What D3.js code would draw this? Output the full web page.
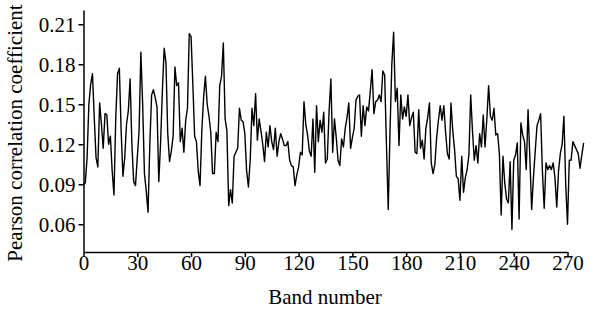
<!DOCTYPE html>
<html>
<head>
<meta charset="utf-8">
<script src="https://cdn.jsdelivr.net/npm/d3@7"></script>
<style>
  body { margin: 0; background: #fff; }
</style>
</head>
<body>
<script>
// Pearson correlation per band, band 0 .. 279
const correlation = [
  0.090, 0.091, 0.110, 0.150, 0.165, 0.173, 0.140, 0.110, 0.103, 0.151,
  0.135, 0.117, 0.143, 0.142, 0.120, 0.126, 0.100, 0.082, 0.140, 0.173,
  0.177, 0.130, 0.096, 0.110, 0.135, 0.145, 0.169, 0.120, 0.092, 0.089,
  0.110, 0.130, 0.189, 0.150, 0.098, 0.085, 0.069, 0.120, 0.157, 0.161,
  0.155, 0.148, 0.092, 0.121, 0.160, 0.192, 0.181, 0.128, 0.107, 0.115,
  0.126, 0.178, 0.164, 0.166, 0.122, 0.132, 0.114, 0.138, 0.147, 0.203,
  0.201, 0.165, 0.126, 0.122, 0.100, 0.089, 0.130, 0.155, 0.171, 0.150,
  0.141, 0.129, 0.098, 0.098, 0.129, 0.122, 0.164, 0.171, 0.196, 0.139,
  0.130, 0.074, 0.086, 0.076, 0.111, 0.114, 0.117, 0.147, 0.138, 0.137,
  0.128, 0.100, 0.088, 0.108, 0.147, 0.134, 0.158, 0.123, 0.139, 0.130,
  0.120, 0.107, 0.129, 0.118, 0.134, 0.122, 0.116, 0.132, 0.111, 0.122,
  0.128, 0.124, 0.119, 0.119, 0.122, 0.108, 0.104, 0.103, 0.089, 0.097,
  0.103, 0.114, 0.112, 0.152, 0.135, 0.127, 0.115, 0.111, 0.139, 0.099,
  0.149, 0.122, 0.138, 0.129, 0.144, 0.106, 0.109, 0.145, 0.169, 0.114,
  0.139, 0.125, 0.108, 0.104, 0.124, 0.118, 0.132, 0.140, 0.151, 0.117,
  0.125, 0.132, 0.153, 0.156, 0.157, 0.126, 0.149, 0.134, 0.148, 0.145,
  0.160, 0.176, 0.143, 0.152, 0.153, 0.157, 0.152, 0.175, 0.172, 0.120,
  0.071, 0.130, 0.180, 0.204, 0.152, 0.162, 0.119, 0.157, 0.139, 0.148,
  0.141, 0.157, 0.134, 0.140, 0.144, 0.114, 0.113, 0.146, 0.117, 0.123,
  0.109, 0.132, 0.140, 0.151, 0.106, 0.098, 0.105, 0.125, 0.138, 0.149,
  0.138, 0.149, 0.129, 0.113, 0.109, 0.151, 0.130, 0.116, 0.096, 0.094,
  0.078, 0.111, 0.084, 0.095, 0.101, 0.112, 0.157, 0.130, 0.108, 0.119,
  0.106, 0.128, 0.118, 0.142, 0.118, 0.139, 0.164, 0.141, 0.138, 0.147,
  0.127, 0.128, 0.113, 0.067, 0.111, 0.091, 0.079, 0.076, 0.107, 0.056,
  0.108, 0.112, 0.121, 0.064, 0.136, 0.127, 0.122, 0.101, 0.146, 0.110,
  0.071, 0.095, 0.115, 0.134, 0.138, 0.143, 0.100, 0.072, 0.106, 0.101,
  0.104, 0.101, 0.106, 0.095, 0.073, 0.100, 0.113, 0.120, 0.141, 0.090,
  0.060, 0.108, 0.108, 0.122, 0.119, 0.116, 0.113, 0.102, 0.112, 0.121
];
const xTicks = [0, 30, 60, 90, 120, 150, 180, 210, 240, 270];
const yTicks = [0.06, 0.09, 0.12, 0.15, 0.18, 0.21];

const width = 600, height = 312;
const serif = '"Liberation Serif", "Times New Roman", serif';

const svg = d3.select("body")
  .append("svg")
  .attr("width", width)
  .attr("height", height)
  .style("font-family", serif);

const x = d3.scaleLinear().domain([0, 270]).range([83.5, 567.5]);
const y = d3.scaleLinear().domain([0.0392, 0.2207]).range([252, 10]);

// the line
const line = d3.line()
  .x((d, i) => x(i))
  .y(d => y(d));

svg.append("path")
  .datum(correlation)
  .attr("d", line)
  .attr("fill", "none")
  .attr("stroke", "#000")
  .attr("stroke-width", 1.4)
  .attr("stroke-linejoin", "round");

// axes
const xAxis = svg.append("g")
  .attr("transform", "translate(0,252)")
  .call(d3.axisBottom(x).tickValues(xTicks).tickSize(5).tickPadding(3).tickSizeOuter(0));

const yAxis = svg.append("g")
  .attr("transform", "translate(83.5,0)")
  .call(d3.axisLeft(y).tickValues(yTicks).tickFormat(d3.format(".2f"))
    .tickSize(5).tickPadding(3).tickSizeOuter(0));

[xAxis, yAxis].forEach(g => {
  g.attr("font-family", serif).attr("font-size", 21);
  g.selectAll("path, line").attr("stroke", "#000").attr("stroke-width", 1.5);
  g.selectAll("text").attr("fill", "#000").style("font-family", serif).style("font-size", "21px");
});

// x tick labels sit right under the ticks in the original
xAxis.selectAll("text").attr("y", 17.5).attr("dy", 0);

// axis titles
svg.append("text")
  .attr("x", 325)
  .attr("y", 304)
  .attr("text-anchor", "middle")
  .style("font-size", "21px")
  .text("Band number");

svg.append("text")
  .attr("transform", "translate(22,133) rotate(-90)")
  .attr("text-anchor", "middle")
  .style("font-size", "21px")
  .text("Pearson correlation coefficient");
</script>
</body>
</html>
